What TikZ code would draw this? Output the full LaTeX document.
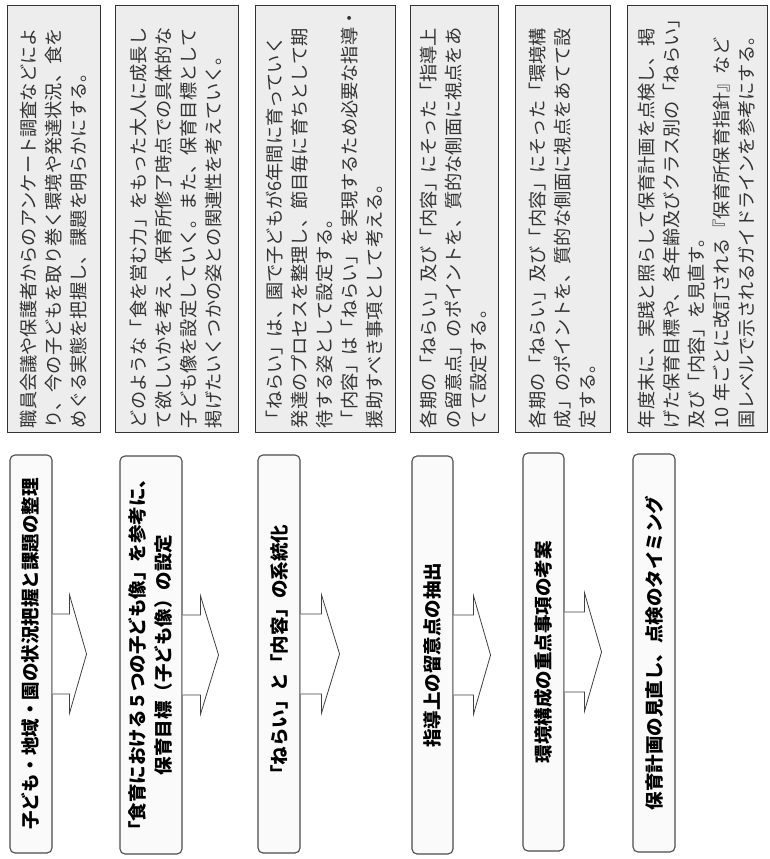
\documentclass[tikz,border=0pt]{standalone}
\usepackage{fontspec}
\newfontfamily\jp{Noto Sans CJK JP}
\usepackage{tikz}
\usetikzlibrary{calc}

\begin{document}
\begin{tikzpicture}[x=1pt, y=-1pt,
Tnode/.style={rotate=90, draw=black!70, fill=black!2, rounded corners=5pt, line width=1.1pt, minimum width=398, minimum height=42, align=center, font=\jp\bfseries\fontsize{18.5}{26}\selectfont},
Enode/.style={rotate=90, draw=black!80, fill=black!7, line width=0.9pt, minimum width=427, text width=419, inner xsep=4, align=left, text=black!80, font=\jp\fontsize{18.2}{25}\selectfont},
Arrow/.style={draw=black!75, fill=white, line width=0.8pt, line join=miter}
]
\useasboundingbox (0,0) rectangle (769,859);

%Nodes
\node[Tnode] (T1) at (31,654) {子ども・地域・園の状況把握と課題の整理};
\node[Tnode, minimum height=62] (T2) at (151,655) {「食育における５つの子ども像」を参考に、\\保育目標（子ども像）の設定};
\node[Tnode] (T3) at (279,654) {「ねらい」と「内容」の系統化};
\node[Tnode, minimum height=41] (T4) at (432.5,655) {指導上の留意点の抽出};
\node[Tnode, minimum height=41] (T5) at (543.5,652) {環境構成の重点事項の考案};
\node[Tnode] (T6) at (654,653) {保育計画の見直し、点検のタイミング};

\node[Enode, minimum height=93] (E1) at (53.5,218.5) {職員会議や保護者からのアンケート調査などによ\\り、今の子どもを取り巻く環境や発達状況、食を\\めぐる実態を把握し、課題を明らかにする。};
\node[Enode, minimum height=123] (E2) at (176.5,218.5) {どのような「食を営む力」をもった大人に成長し\\て欲しいかを考え、保育所修了時点での具体的な\\子ども像を設定していく。また、保育目標として\\掲げたいくつかの姿との関連性を考えていく。};
\node[Enode, minimum height=140] (E3) at (325,218.5) {「ねらい」は、園で子どもが6年間に育っていく\\発達のプロセスを整理し、節目毎に育ちとして期\\待する姿として設定する。\\「内容」は「ねらい」を実現するため必要な指導・\\援助すべき事項として考える。};
\node[Enode, minimum height=88] (E4) at (454,218.5) {各期の「ねらい」及び「内容」にそった「指導上\\の留意点」のポイントを、質的な側面に視点をあ\\てて設定する。};
\node[Enode, minimum height=95] (E5) at (562.5,218.5) {各期の「ねらい」及び「内容」にそった「環境構\\成」のポイントを、質的な側面に視点をあてて設\\定する。};
\node[Enode, minimum height=140] (E6) at (697,218.5) {年度末に、実践と照らして保育計画を点検し、掲\\げた保育目標や、各年齢及びクラス別の「ねらい」\\及び「内容」を見直す。\\10 年ごとに改訂される『保育所保育指針』など\\国レベルで示されるガイドラインを参考にする。};

%Arrows
\draw[Arrow] ($(T1.south)+(0,-40)$) -- ++(17,0) -- ++(0,-19) -- ++(17,59) -- ++(-17,59) -- ++(0,-19) -- ++(-17,0);
\draw[Arrow] ($(T2.south)+(0,-40)$) -- ++(18,0) -- ++(0,-19) -- ++(18,59) -- ++(-18,59) -- ++(0,-19) -- ++(-18,0);
\draw[Arrow] ($(T3.south)+(0,-40)$) -- ++(21,0) -- ++(0,-19) -- ++(18,59) -- ++(-18,59) -- ++(0,-19) -- ++(-21,0);
\draw[Arrow] ($(T4.south)+(0,-40)$) -- ++(20,0) -- ++(0,-19) -- ++(17,59) -- ++(-17,59) -- ++(0,-19) -- ++(-20,0);
\draw[Arrow] ($(T5.south)+(0,-40)$) -- ++(20,0) -- ++(0,-19) -- ++(17,59) -- ++(-17,59) -- ++(0,-19) -- ++(-20,0);
\end{tikzpicture}
\end{document}
